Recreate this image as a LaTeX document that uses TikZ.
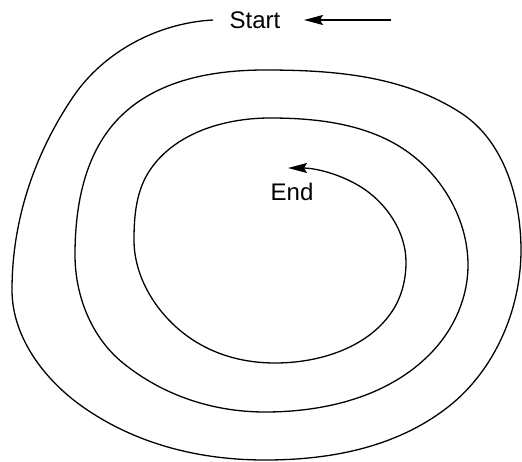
\documentclass[tikz,border=0pt]{standalone}
\usepackage{fontspec}
\setmainfont{Liberation Sans}
\usetikzlibrary{arrows.meta}
\tikzset{
  lbl/.style={font=\fontsize{24}{28}\selectfont, inner sep=0pt},
  spiral/.style={line width=1.3pt, black, looseness=0.88, -{Stealth[length=19pt,width=10pt,inset=3pt]}},
  pointer/.style={line width=1.3pt, black, -{Stealth[length=19pt,width=10pt,inset=3pt]}}
}
\begin{document}
\begin{tikzpicture}[x=1pt,y=-1pt]
\useasboundingbox (0,0) rectangle (522,461);
\node[lbl] (start) at (255,20) {Start};
\node[lbl] (end) at (292,192) {End};
\coordinate (ptr) at (391,20);
\coordinate (tipS) at (304,20);
\draw[pointer] (ptr) -- (tipS);
\draw[spiral] (213,20)
  to[out=183,in=56] (73,97)
  to[out=236,in=90] (12,290)
  to[out=270,in=145] (83,407)
  to[out=325,in=180] (265,460)
  to[out=0,in=218] (448,407)
  to[out=38,in=270] (521,250)
  to[out=90,in=327] (461,113)
  to[out=147,in=0] (265,70)
  to[out=180,in=45] (120,117)
  to[out=225,in=90] (75,255)
  to[out=270,in=141] (123,363)
  to[out=321,in=180] (265,412)
  to[out=0,in=226] (431,353)
  to[out=46,in=270] (468,265)
  to[out=90,in=319] (418,160)
  to[out=139,in=0] (270,118)
  to[out=180,in=56] (150,170)
  to[out=236,in=90] (134,240)
  to[out=270,in=147] (193,340)
  to[out=327,in=180] (275,363)
  to[out=0,in=235] (391,313)
  to[out=55,in=270] (406,262)
  to[out=90,in=328] (361,187)
  to[out=148,in=0] (288,168);
\end{tikzpicture}
\end{document}
